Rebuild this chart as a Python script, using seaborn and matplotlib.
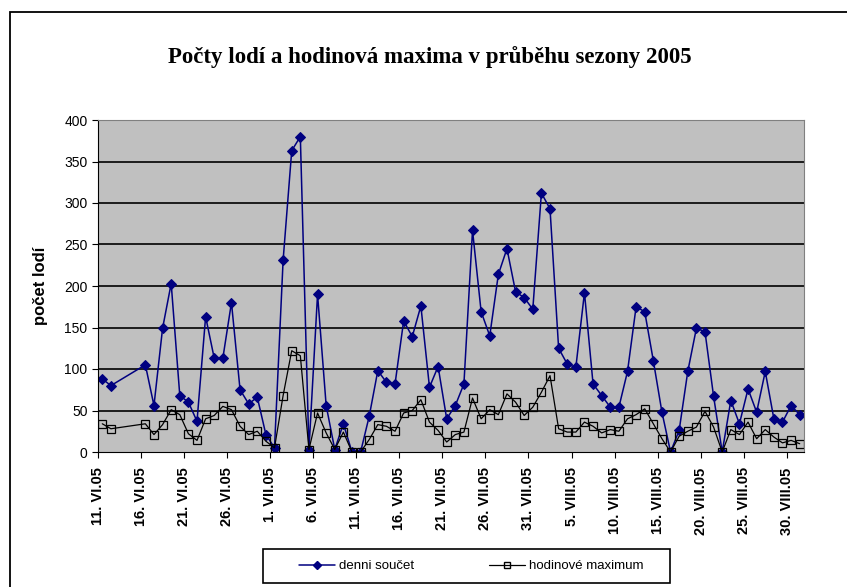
import pandas as pd
import numpy as np
import seaborn as sns
import matplotlib.pyplot as plt
from matplotlib.patches import Rectangle
from matplotlib.lines import Line2D

# days of the season with records (13.-15. VI missing)
dates = pd.to_datetime(["2005-06-11", "2005-06-12"]).append(
    pd.date_range("2005-06-16", "2005-08-31", freq="D"))

denni_soucet = [88, 80,
                105, 56, 149, 203, 68, 60, 37, 163, 113, 113, 180, 75, 58, 66, 21, 5,
                231, 363, 380, 3, 190, 56, 3, 34, 0, 0, 43, 98, 84, 82, 158, 139,
                176, 78, 103, 40, 56, 82, 267, 169, 140, 214, 245, 193, 186, 172,
                312, 293, 125, 106, 102, 192, 82, 68, 54, 54, 97, 175, 169, 110,
                48, 0, 26, 97, 149, 145, 67, 0, 62, 34, 76, 48, 97, 40, 36, 56, 45]
hodinove_max = [34, 28,
                34, 21, 33, 51, 45, 22, 14, 40, 44, 55, 51, 31, 21, 25, 13, 5,
                68, 122, 116, 3, 47, 23, 3, 24, 0, 0, 15, 33, 31, 25, 47, 50,
                63, 36, 26, 12, 21, 24, 65, 40, 51, 45, 70, 60, 44, 54,
                72, 92, 28, 24, 24, 36, 31, 23, 27, 25, 40, 45, 52, 34,
                16, 0, 19, 25, 30, 49, 30, 0, 27, 21, 36, 16, 27, 18, 11, 14, 10]

tick_dates = pd.date_range("2005-06-11", "2005-08-30", freq="5D")
tick_labels = ["11. VI.05", "16. VI.05", "21. VI.05", "26. VI.05",
               "1. VII.05", "6. VII.05", "11. VII.05", "16. VII.05", "21. VII.05",
               "26. VII.05", "31. VII.05", "5. VIII.05", "10. VIII.05",
               "15. VIII.05", "20. VIII.05", "25. VIII.05", "30. VIII.05"]

df = pd.DataFrame({"datum": dates + pd.Timedelta(hours=12),  # points sit mid-day
                   "denni": denni_soucet, "hodinove": hodinove_max})

sns.set_style("white")
plt.rcParams["font.family"] = ["Liberation Sans", "DejaVu Sans"]
plt.rcParams.update({"text.color": "black", "axes.labelcolor": "black",
                     "xtick.color": "black", "ytick.color": "black"})

fig = plt.figure(figsize=(8.47, 5.87), dpi=100)
ax = fig.add_axes([98/847, 1-452/587, (804-98)/847, (452-120)/587])
ax.set_facecolor("#C0C0C0")

sns.lineplot(data=df, x="datum", y="denni", ax=ax, color="#000080", lw=1.1,
             marker="D", markersize=5.5, markeredgecolor="#000080",
             legend=False)
sns.lineplot(data=df, x="datum", y="hodinove", ax=ax, color="black", lw=0.9,
             marker="s", markersize=6, markerfacecolor="none",
             markeredgecolor="black", markeredgewidth=0.9,
             legend=False)

ax.set_xlim(pd.Timestamp("2005-06-11"), pd.Timestamp("2005-09-01"))
ax.set_ylim(0, 400)
ax.set_yticks(range(0, 401, 50))
for v in range(50, 400, 50):
    ax.axhline(v, color="black", lw=1.2, zorder=0.5)
ax.set_xticks(tick_dates)
ax.set_xticklabels(tick_labels, rotation=90, fontsize=10.5, fontweight="bold")
ax.tick_params(axis="y", labelsize=10, direction="out", length=4, left=True, color="black")
ax.tick_params(axis="x", direction="out", length=4, bottom=True, color="black", pad=7)
for s in ax.spines.values():
    s.set_color("#808080")
ax.spines["left"].set_color("black")
ax.spines["bottom"].set_color("black")
ax.set_xlabel("")
ax.set_ylabel("počet lodí", fontsize=12, fontweight="bold", labelpad=12)

fig.text(0.508, 1-57/587, "Počty lodí a hodinová maxima v průběhu sezony 2005",
         ha="center", va="center", fontsize=16.5, fontweight="bold", color="black",
         family=["Liberation Serif", "DejaVu Serif"])

# legend (small markers, Excel-like box drawn separately)
handles = [Line2D([], [], color="#000080", lw=1.1, marker="D", markersize=4),
           Line2D([], [], color="black", lw=0.9, marker="s", markersize=4,
                  markerfacecolor="none")]
fig.legend(handles, ["denni součet", "hodinové maximum"], loc="center",
           bbox_to_anchor=(471/847, 1-566/587), ncol=2, frameon=False,
           fontsize=9.5, columnspacing=5.7, handlelength=2.7, handletextpad=0.3)
fig.patches.append(Rectangle((263/847, 1-583/587), (670-263)/847, 34/587,
                             transform=fig.transFigure, fill=False,
                             edgecolor="black", lw=1.2))

fig.patches.append(Rectangle((10/847, -0.1), 1.2, 1-12/587+0.1, transform=fig.transFigure,
                             fill=False, edgecolor="black", lw=1.3))

plt.savefig("out.png", dpi=100)
